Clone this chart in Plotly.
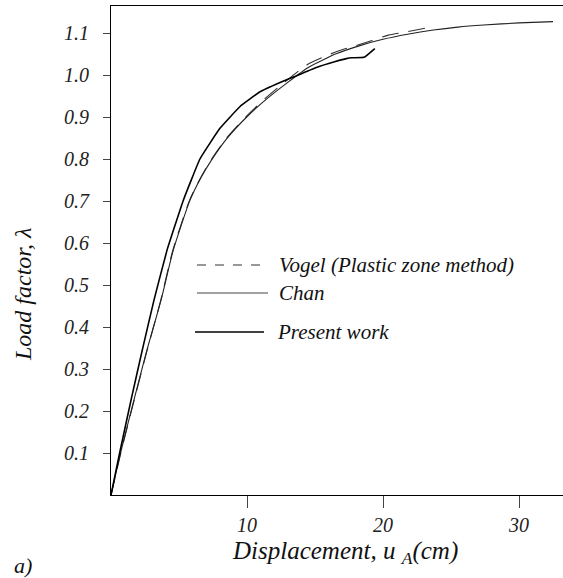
import plotly.graph_objects as go

# Load–displacement curves (displacement u_A in cm, load factor λ)
present_x = [0, 0.6, 1.5, 2.3, 3.16, 4.12, 5.32, 6.54, 8.01, 9.49, 10.96, 12.43, 13.4,
             15.1, 16.5, 17.3, 17.7, 18.6, 19.4]
present_y = [0, 0.095, 0.23, 0.345, 0.464, 0.583, 0.702, 0.800, 0.873, 0.925, 0.960,
             0.982, 0.995, 1.018, 1.032, 1.039, 1.041, 1.042, 1.063]

chan_x = [0, 0.7, 1.6, 2.6, 3.68, 4.58, 5.81, 6.6, 7.4, 8.5, 9.98, 11.45, 12.9, 14.5,
          16.6, 18.3, 20.0, 21.8, 23.7, 25.5, 27.4, 30.0, 32.5]
chan_y = [0, 0.10, 0.215, 0.34, 0.464, 0.583, 0.702, 0.755, 0.798, 0.848, 0.900, 0.943,
          0.980, 1.018, 1.051, 1.070, 1.085, 1.097, 1.107, 1.114, 1.119, 1.124, 1.127]

vogel_x = [0, 0.72, 1.62, 2.62, 3.66, 4.55, 5.78, 6.6, 7.4, 8.5, 10.0, 11.4, 12.8, 14.4,
           16.6, 17.8, 19.2, 20.4, 21.8, 23.5]
vogel_y = [0, 0.10, 0.215, 0.34, 0.464, 0.583, 0.702, 0.756, 0.800, 0.850, 0.903, 0.946,
           0.984, 1.024, 1.056, 1.068, 1.082, 1.095, 1.103, 1.114]

x_ticks = [10, 20, 30]
y_ticks = [0.1, 0.2, 0.3, 0.4, 0.5, 0.6, 0.7, 0.8, 0.9, 1.0, 1.1]

legend_names = ["Vogel (Plastic zone method)", "Chan", "Present work"]

W, H = 563, 578
L, R, T, B = 111, 0, 6, 83
PW, PH = W - L - R, H - T - B
SERIF = "Liberation Serif"


def px(xp):
    return (xp - L) / PW


def py(yp):
    return (H - B - yp) / PH


def it(s):
    return "<i>" + s + "</i>"


fig = go.Figure()
fig.add_trace(go.Scatter(x=vogel_x, y=vogel_y, mode="lines", line_shape="spline",
                         line=dict(color="#333", width=1.1, dash="17px,10px", smoothing=0.6),
                         name=legend_names[0]))
fig.add_trace(go.Scatter(x=chan_x, y=chan_y, mode="lines", line_shape="spline",
                         line=dict(color="#222", width=1.1, smoothing=0.6), name=legend_names[1]))
fig.add_trace(go.Scatter(x=present_x, y=present_y, mode="lines", line_shape="spline",
                         line=dict(color="#000", width=1.6, smoothing=0.3), name=legend_names[2]))

tick_font = dict(family=SERIF, size=20, color="#222")

fig.update_xaxes(range=[0, PW / 13.6], tickvals=x_ticks, ticktext=[it(str(v)) for v in x_ticks],
                 showline=True, linecolor="#000", linewidth=1.2, mirror=True,
                 ticks="outside", ticklen=12, tickcolor="#444", tickwidth=1,
                 showgrid=False, zeroline=False, tickfont=tick_font)
fig.update_yaxes(range=[0, PH / 420], tickvals=y_ticks,
                 ticktext=[it(f"{v:.1f}") + "  " for v in y_ticks],
                 showline=True, linecolor="#000", linewidth=1.2, mirror=False,
                 ticks="outside", ticklen=7, tickcolor="#444", tickwidth=1,
                 showgrid=False, zeroline=False, tickfont=tick_font)

shapes = []
annotations = []
# legend keys
key_rows = [(265, "dash", "#333", 1.1, 197, 268, 277),
            (293, "solid", "#444", 1.1, 197, 268, 277),
            (332, "solid", "#000", 1.6, 195, 264, 275)]
for name, (yy, dash, col, wdt, x0, x1, xt) in zip(legend_names, key_rows):
    shapes.append(dict(type="line", xref="paper", yref="paper", x0=px(x0), x1=px(x1),
                       y0=py(yy), y1=py(yy), line=dict(color=col, width=wdt, dash=dash)))
    annotations.append(dict(text=it(name), xref="paper", yref="paper", x=px(xt), y=py(yy),
                            xanchor="left", yanchor="middle", showarrow=False,
                            font=dict(family=SERIF, size=21, color="#111")))

annotations.append(dict(text=it("Load factor, λ"), textangle=-90, xref="paper", yref="paper",
                        x=px(23), y=py(295), xanchor="center", yanchor="middle",
                        showarrow=False, font=dict(family=SERIF, size=24, color="#111")))
annotations.append(dict(text=it("Displacement, u <sub>A</sub>(cm)"), xref="paper", yref="paper",
                        x=px(345), y=py(552), xanchor="center", yanchor="middle",
                        showarrow=False, font=dict(family=SERIF, size=25, color="#111")))
annotations.append(dict(text=it("a)"), xref="paper", yref="paper", x=px(23), y=py(565),
                        xanchor="center", yanchor="middle", showarrow=False,
                        font=dict(family=SERIF, size=22, color="#111")))

fig.update_layout(template="none", width=W, height=H, margin=dict(l=L, r=R, t=T, b=B),
                  paper_bgcolor="white", plot_bgcolor="white", showlegend=False,
                  font=dict(family=SERIF, color="#111"),
                  shapes=shapes, annotations=annotations)

fig.write_html("out.html")
